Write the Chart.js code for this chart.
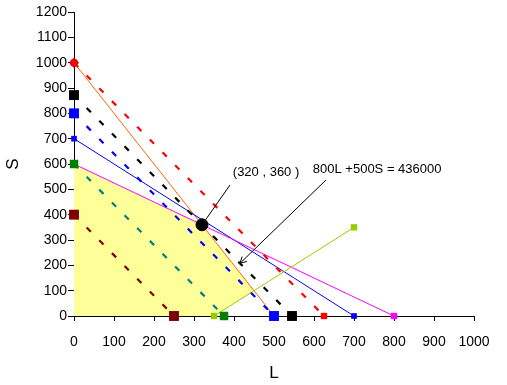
<!DOCTYPE html>
<html>
<head>
<meta charset="utf-8">
<script src="https://cdn.jsdelivr.net/npm/chart.js@4/dist/chart.umd.min.js"></script>
<style>
  html, body { margin:0; padding:0; background:#fff; }
  #wrap { width:507px; height:385px; }
</style>
</head>
<body>
<div id="wrap"><canvas id="lp" width="507" height="385"></canvas></div>
<script>
// feasible region corners (L, S)
const regionL = [0, 0, 320, 450, 350];
const regionS = [0, 600, 360, 100, 0];

// constraint lines
const orangeL = [0, 500],  orangeS = [1000, 0];
const blueL   = [0, 700],  blueS   = [700, 0];
const pinkL   = [0, 800],  pinkS   = [600, 0];
const limeL   = [350, 700], limeS  = [0, 350];

// iso-profit lines 800L + 500S = k
const isoK = [200000, 300000, 400000, 436000, 500000];

const optimum = { L: 320, S: 360 };

const xTicks = { min: 0, max: 1000, step: 100 };
const yTicks = { min: 0, max: 1200, step: 100 };

const annoText = ['(320 , 360 )', '800L +500S = 436000'];
const annoTextAt = [[397, 568], [597, 577]];
const arrowFrom = [[390, 517], [630, 537]];
const arrowTo = [[322, 364], [415, 208]];

const FONT = "'Liberation Sans', Arial, sans-serif";

const pts = (xs, ys) => xs.map((x, i) => ({ x, y: ys[i] }));
const isoPts = k => [{ x: 0, y: k / 500 }, { x: k / 800, y: 0 }];

function dashed(k, lineColor, markColor, r) {
  return {
    data: isoPts(k), showLine: true, clip: false,
    borderColor: lineColor, borderWidth: 2.2, borderDash: [6, 12],
    pointStyle: 'rect', pointRadius: r,
    pointBackgroundColor: markColor, pointBorderColor: markColor, pointBorderWidth: 0
  };
}

const datasets = [
  { data: [{ x: optimum.L, y: optimum.S }], clip: false, pointRadius: 6, pointBackgroundColor: '#000', pointBorderColor: '#000' },
  Object.assign(dashed(isoK[4], '#ff0000', '#ff0000', 4.5), { pointStyle: ['circle', 'rect'], pointRadius: [4, 4.5] }),
  dashed(isoK[3], '#000000', '#000000', 7),
  dashed(isoK[2], '#0000ff', '#0000ff', 7),
  dashed(isoK[1], '#008080', '#008000', 6),
  dashed(isoK[0], '#800000', '#800000', 7),
  { data: pts(limeL, limeS), showLine: true, clip: false, borderColor: '#99cc00', borderWidth: 1,
    pointStyle: 'rect', pointRadius: 4.5, pointBackgroundColor: '#99cc00', pointBorderWidth: 0 },
  { data: pts(pinkL, pinkS), showLine: true, clip: false, borderColor: '#ff00ff', borderWidth: 1,
    pointStyle: 'rect', pointRadius: 4.5, pointBackgroundColor: '#ff00ff', pointBorderWidth: 0 },
  { data: pts(blueL, blueS), showLine: true, clip: false, borderColor: '#0000ff', borderWidth: 1,
    pointStyle: 'rect', pointRadius: 4, pointBackgroundColor: '#0000ff', pointBorderWidth: 0 },
  { data: pts(orangeL, orangeS), showLine: true, clip: false, borderColor: '#ff6600', borderWidth: 1,
    pointStyle: 'rectRot', pointRadius: [5, 0], pointBackgroundColor: '#000080', pointBorderWidth: 0 },
  { data: pts(regionL, regionS), showLine: true, borderWidth: 0, pointRadius: 0,
    backgroundColor: '#ffff99', fill: 'shape', order: 10 }
];

// text + leader lines
const annotations = {
  id: 'annotations',
  afterDatasetsDraw(chart) {
    const { ctx, scales: { x, y } } = chart;
    ctx.save();
    ctx.strokeStyle = '#000';
    ctx.lineWidth = 1;
    arrowFrom.forEach((f, i) => {
      const x1 = x.getPixelForValue(f[0]), y1 = y.getPixelForValue(f[1]);
      const x2 = x.getPixelForValue(arrowTo[i][0]), y2 = y.getPixelForValue(arrowTo[i][1]);
      ctx.beginPath(); ctx.moveTo(x1, y1); ctx.lineTo(x2, y2); ctx.stroke();
      if (i === 1) {
        const a = Math.atan2(y2 - y1, x2 - x1), h = 7;
        ctx.beginPath();
        ctx.moveTo(x2 - h * Math.cos(a - 0.5), y2 - h * Math.sin(a - 0.5));
        ctx.lineTo(x2, y2);
        ctx.lineTo(x2 - h * Math.cos(a + 0.5), y2 - h * Math.sin(a + 0.5));
        ctx.stroke();
      }
    });
    ctx.fillStyle = '#000';
    ctx.font = '13px ' + FONT;
    ctx.textBaseline = 'middle';
    annoText.forEach((t, i) => {
      ctx.fillText(t, x.getPixelForValue(annoTextAt[i][0]), y.getPixelForValue(annoTextAt[i][1]));
    });
    ctx.restore();
  }
};

new Chart(document.getElementById('lp'), {
  type: 'scatter',
  data: { datasets },
  options: {
    responsive: false, animation: false,
    layout: { padding: { top: 12, right: 33, left: 0, bottom: 0 } },
    plugins: { legend: { display: false }, tooltip: { enabled: false } },
    scales: {
      x: {
        type: 'linear', min: xTicks.min, max: xTicks.max,
        afterFit: s => { s.height = 69; },
        grid: { drawOnChartArea: false, drawTicks: true, tickLength: 5, color: '#000' },
        border: { color: '#000', width: 1 },
        ticks: { stepSize: xTicks.step, color: '#000', padding: 13, maxRotation: 0, minRotation: 0, autoSkip: false,
                 callback: v => String(v), font: { family: FONT, size: 14 } },
        title: { display: true, text: 'L', color: '#000', padding: { top: 0, bottom: 1 }, font: { family: FONT, size: 17 } }
      },
      y: {
        type: 'linear', min: yTicks.min, max: yTicks.max,
        afterFit: s => { s.width = 74; },
        grid: { drawOnChartArea: false, drawTicks: true, tickLength: 6, color: '#000' },
        border: { color: '#000', width: 1 },
        ticks: { stepSize: yTicks.step, color: '#000', padding: 1, autoSkip: false,
                 callback: v => String(v), font: { family: FONT, size: 14 } },
        title: { display: true, text: 'S', color: '#000', padding: { top: 3, bottom: 0 }, font: { family: FONT, size: 17 } }
      }
    }
  },
  plugins: [annotations]
});
</script>
</body>
</html>
